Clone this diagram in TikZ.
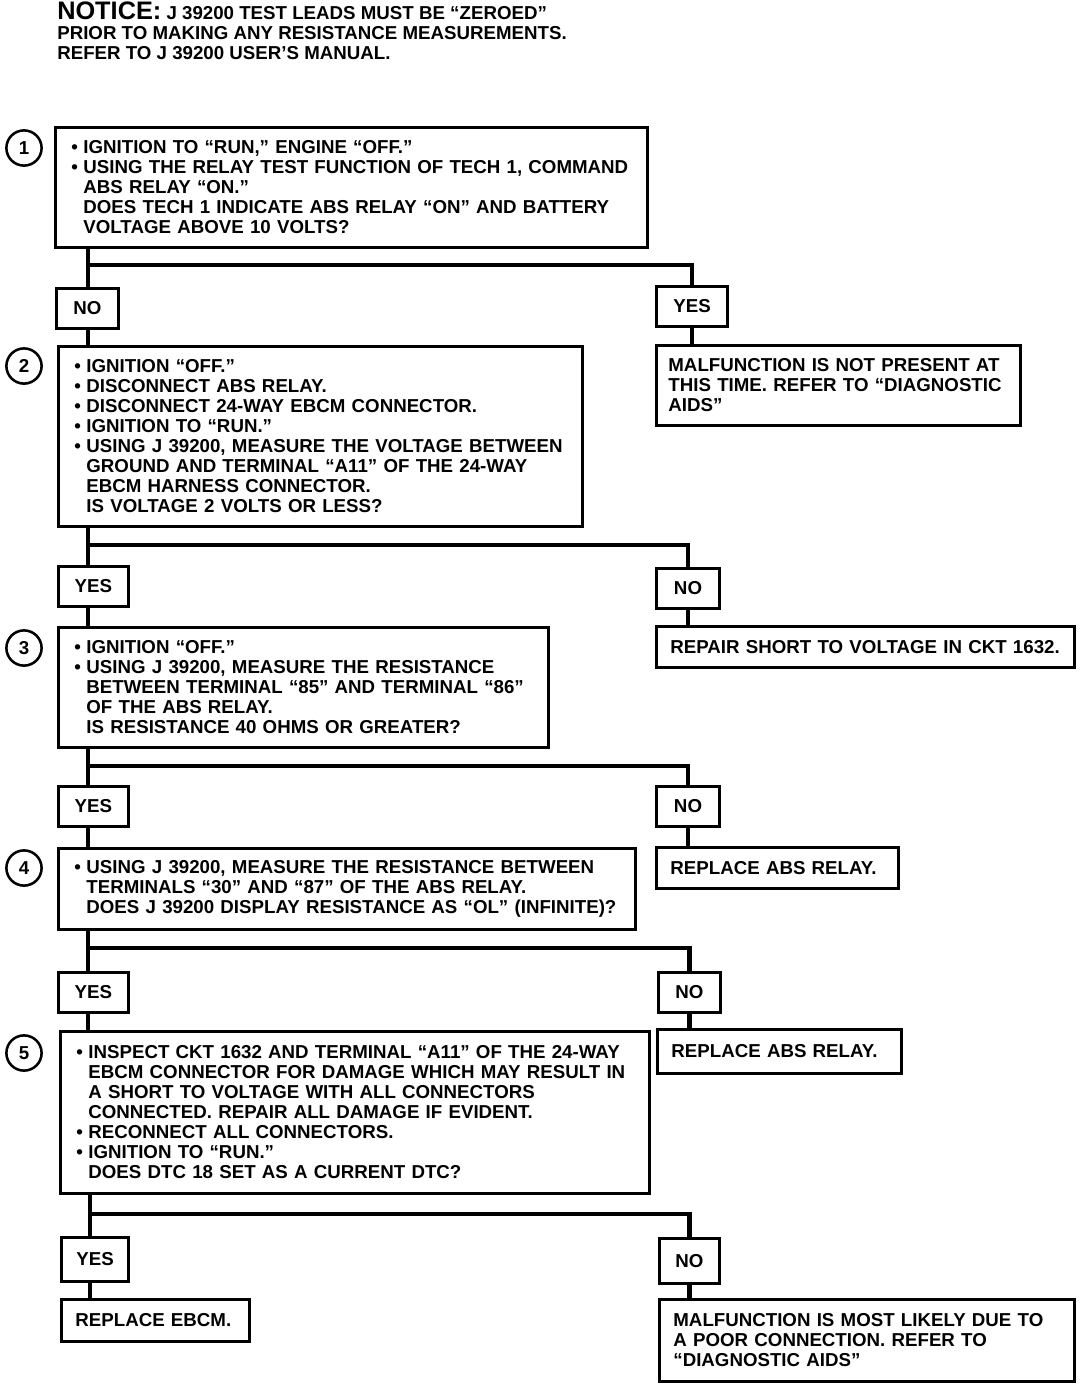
\documentclass[tikz,border=0pt]{standalone}
\usepackage{fontspec}
\setmainfont{Liberation Sans}
\newcommand{\bul}{\makebox[0.3cm][l]{\textbullet}}
\newcommand{\ind}{\hspace*{0.3cm}}
\begin{document}
\begin{tikzpicture}[
    x=0.025cm, y=-0.025cm,
    every node/.style={font=\bfseries\fontsize{13.3}{14.2}\selectfont},
    box/.style={rectangle, draw, line width=2pt, anchor=north west, align=left, inner xsep=0.4cm},
    ans/.style={rectangle, draw, line width=2pt, anchor=north west, minimum width=1.6cm, minimum height=1cm},
    num/.style={circle, draw, line width=1.8pt, minimum size=0.88cm, inner sep=0pt},
    link/.style={line width=3.5pt}
]
    \useasboundingbox (0,0) rectangle (1088,1386);

    % Notice
    \node[anchor=north west, align=left, inner sep=0pt] (notice) at (57,2)
        {{\fontsize{18}{20}\selectfont NOTICE:} J 39200 TEST LEADS MUST BE “ZEROED”\\
         PRIOR TO MAKING ANY RESISTANCE MEASUREMENTS.\\
         REFER TO J 39200 USER’S MANUAL.};

    % Step 1
    \node[num] (c1) at (24,148) {1};
    \node[box, text width=14cm, minimum height=3cm] (q1) at (54,126)
        {\bul IGNITION TO “RUN,” ENGINE “OFF.”\\
         \bul USING THE RELAY TEST FUNCTION OF TECH 1, COMMAND\\
         \ind ABS RELAY “ON.”\\
         \ind DOES TECH 1 INDICATE ABS RELAY “ON” AND BATTERY\\
         \ind VOLTAGE ABOVE 10 VOLTS?};
    \node[ans, minimum width=1.55cm] (n1) at (55,287) {NO};
    \node[ans, minimum width=1.78cm] (y1) at (655,285) {YES};
    \node[box, text width=8.5cm, minimum height=2cm, inner xsep=0.3cm] (r1) at (655,344)
        {MALFUNCTION IS NOT PRESENT AT\\
         THIS TIME. REFER TO “DIAGNOSTIC\\
         AIDS”};

    % Step 2
    \node[num] (c2) at (24,366) {2};
    \node[box, text width=12.3cm, minimum height=4.5cm] (q2) at (57,345)
        {\bul IGNITION “OFF.”\\
         \bul DISCONNECT ABS RELAY.\\
         \bul DISCONNECT 24-WAY EBCM CONNECTOR.\\
         \bul IGNITION TO “RUN.”\\
         \bul USING J 39200, MEASURE THE VOLTAGE BETWEEN\\
         \ind GROUND AND TERMINAL “A11” OF THE 24-WAY\\
         \ind EBCM HARNESS CONNECTOR.\\
         \ind IS VOLTAGE 2 VOLTS OR LESS?};
    \node[ans, minimum width=1.75cm] (y2) at (57,565) {YES};
    \node[ans, minimum width=1.58cm] (n2) at (655,567) {NO};
    \node[box, text width=9.75cm, minimum height=1.025cm, inner xsep=0.35cm] (r2) at (655,625)
        {REPAIR SHORT TO VOLTAGE IN CKT 1632.};

    % Step 3
    \node[num] (c3) at (24,648) {3};
    \node[box, text width=11.45cm, minimum height=3cm] (q3) at (57,626)
        {\bul IGNITION “OFF.”\\
         \bul USING J 39200, MEASURE THE RESISTANCE\\
         \ind BETWEEN TERMINAL “85” AND TERMINAL “86”\\
         \ind OF THE ABS RELAY.\\
         \ind IS RESISTANCE 40 OHMS OR GREATER?};
    \node[ans, minimum width=1.75cm] (y3) at (57,785) {YES};
    \node[ans, minimum width=1.58cm] (n3) at (655,785) {NO};
    \node[box, text width=5.35cm, minimum height=1.025cm, inner xsep=0.35cm] (r3) at (655,846)
        {REPLACE ABS RELAY.};

    % Step 4
    \node[num] (c4) at (24,868) {4};
    \node[box, text width=13.625cm, minimum height=2.025cm] (q4) at (57,847)
        {\bul USING J 39200, MEASURE THE RESISTANCE BETWEEN\\
         \ind TERMINALS “30” AND “87” OF THE ABS RELAY.\\
         \ind DOES J 39200 DISPLAY RESISTANCE AS “OL” (INFINITE)?};
    \node[ans, minimum width=1.75cm] (y4) at (57,971) {YES};
    \node[ans, minimum width=1.55cm] (n4) at (657,971) {NO};
    \node[box, text width=5.4cm, minimum height=1.1cm, inner xsep=0.35cm] (r4) at (656,1028)
        {REPLACE ABS RELAY.};

    % Step 5
    \node[num] (c5) at (24,1053) {5};
    \node[box, text width=13.925cm, minimum height=4.05cm] (q5) at (59,1030)
        {\bul INSPECT CKT 1632 AND TERMINAL “A11” OF THE 24-WAY\\
         \ind EBCM CONNECTOR FOR DAMAGE WHICH MAY RESULT IN\\
         \ind A SHORT TO VOLTAGE WITH ALL CONNECTORS\\
         \ind CONNECTED. REPAIR ALL DAMAGE IF EVIDENT.\\
         \bul RECONNECT ALL CONNECTORS.\\
         \bul IGNITION TO “RUN.”\\
         \ind DOES DTC 18 SET AS A CURRENT DTC?};
    \node[ans, minimum width=1.68cm, minimum height=1.1cm] (y5) at (60,1236) {YES};
    \node[ans, minimum width=1.5cm, minimum height=1.12cm] (n5) at (658,1237) {NO};
    \node[box, text width=4cm, minimum height=1.05cm, inner xsep=0.35cm] (r5) at (60,1298)
        {REPLACE EBCM.};
    \node[box, text width=9.675cm, minimum height=2.05cm, inner xsep=0.35cm] (r6) at (658,1298)
        {MALFUNCTION IS MOST LIKELY DUE TO\\
         A POOR CONNECTION. REFER TO\\
         “DIAGNOSTIC AIDS”};

    % Branch points
    \coordinate (b1) at (88,265);
    \coordinate (b2) at (88,545);
    \coordinate (b3) at (88,766);
    \coordinate (b4) at (88,948);
    \coordinate (b5) at (90,1214);

    % Connections
    \draw[link] (q1.south -| b1) -- (n1.north -| b1);
    \draw[link] (b1) -| (y1.north);
    \draw[link] (y1.south) -- (r1.north -| y1.south);
    \draw[link] (n1.south -| b1) -- (q2.north -| b1);

    \draw[link] (q2.south -| b2) -- (y2.north -| b2);
    \draw[link] (b2) -| (n2.north);
    \draw[link] (n2.south) -- (r2.north -| n2.south);
    \draw[link] (y2.south -| b2) -- (q3.north -| b2);

    \draw[link] (q3.south -| b3) -- (y3.north -| b3);
    \draw[link] (b3) -| (n3.north);
    \draw[link] (n3.south) -- (r3.north -| n3.south);
    \draw[link] (y3.south -| b3) -- (q4.north -| b3);

    \draw[link] (q4.south -| b4) -- (y4.north -| b4);
    \draw[link] (b4) -| (n4.north);
    \draw[link] (n4.south) -- (r4.north -| n4.south);
    \draw[link] (y4.south -| b4) -- (q5.north -| b4);

    \draw[link] (q5.south -| b5) -- (y5.north -| b5);
    \draw[link] (b5) -| (n5.north);
    \draw[link] (n5.south) -- (r6.north -| n5.south);
    \draw[link] (y5.south -| b5) -- (r5.north -| b5);
\end{tikzpicture}
\end{document}
